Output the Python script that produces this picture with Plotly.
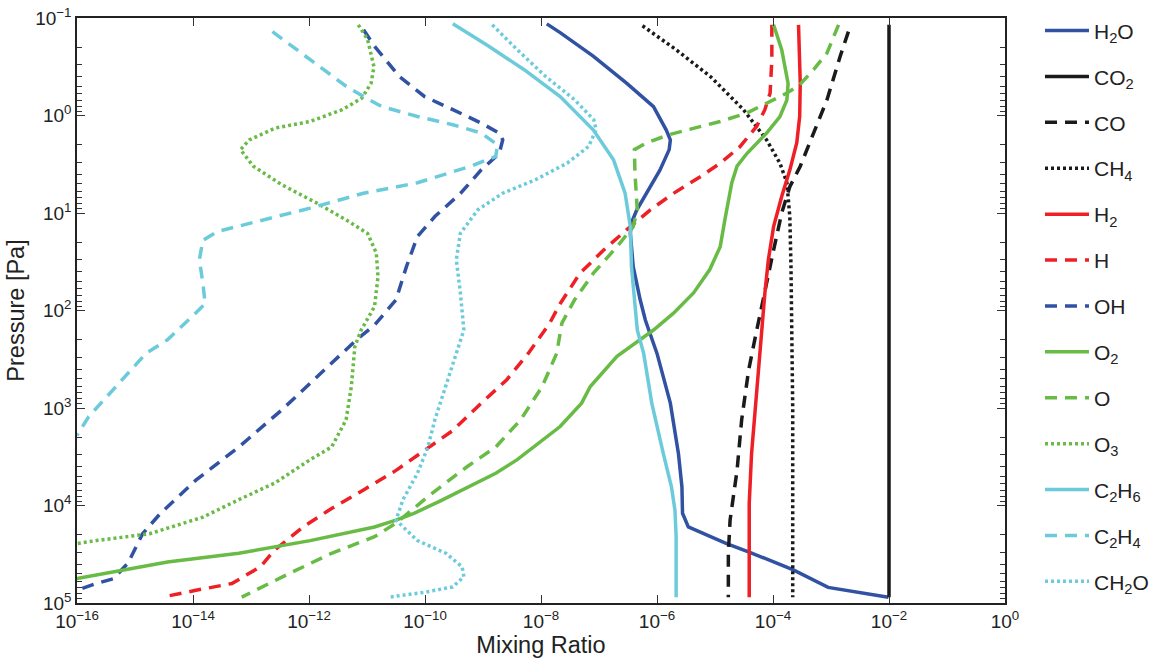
import numpy as np
import plotly.graph_objects as go

# ---- Data: log10(pressure [Pa]) and log10(mixing ratio) ----
h2o_logp = [-0.94,-0.85,-0.61,-0.33,-0.09,0.15,0.25,0.35,0.56,0.80,0.97,1.10,1.21,1.55,1.89,2.10,2.44,2.95,3.47,3.81,4.08,4.22,4.39,4.48,4.66,4.84,4.94]
h2o_logx = [-7.90,-7.67,-7.10,-6.52,-6.06,-5.84,-5.77,-5.79,-5.95,-6.18,-6.35,-6.44,-6.46,-6.41,-6.29,-6.20,-6.00,-5.77,-5.63,-5.57,-5.56,-5.46,-4.80,-4.40,-3.65,-3.05,-2.01]

co2_logp = [-0.93, 4.94]
co2_logx = [-2.0, -2.0]

co_logp = [-0.86,-0.61,-0.16,0.18,0.52,0.73,1.0,1.38,1.79,2.2,2.61,3.12,3.64,3.98,4.15,4.49,4.94]
co_logx = [-2.70,-2.84,-3.07,-3.30,-3.53,-3.71,-3.85,-3.99,-4.14,-4.28,-4.42,-4.54,-4.62,-4.71,-4.74,-4.77,-4.77]

ch4_logp = [-0.92,-0.67,-0.40,-0.06,0.25,0.49,0.69,1.04,1.55,2.2,3.0,4.0,4.94]
ch4_logx = [-6.25,-5.66,-5.08,-4.51,-4.11,-3.88,-3.76,-3.71,-3.69,-3.68,-3.66,-3.66,-3.66]

h2_logp = [-0.93,-0.33,0.01,0.28,0.56,0.83,1.14,1.48,1.82,2.15,2.78,3.47,3.98,4.49,4.94]
h2_logx = [-3.56,-3.53,-3.54,-3.59,-3.71,-3.85,-3.99,-4.08,-4.14,-4.185,-4.28,-4.37,-4.41,-4.41,-4.41]

h_logp = [-0.93,-0.57,-0.23,-0.06,0.11,0.32,0.49,0.63,0.80,0.97,1.17,1.38,1.62,1.93,2.13,2.44,2.71,2.95,3.23,3.43,3.64,3.84,4.03,4.22,4.46,4.63,4.80,4.87,4.94]
h_logx = [-4.02,-4.02,-4.05,-4.14,-4.28,-4.57,-4.91,-5.26,-5.72,-6.12,-6.52,-6.92,-7.33,-7.67,-7.85,-8.22,-8.59,-9.03,-9.52,-10.0,-10.5,-11.06,-11.61,-12.1,-12.6,-12.84,-13.33,-13.95,-14.53]

oh_logp = [-0.88,-0.71,-0.40,-0.195,-0.06,0.078,0.18,0.25,0.39,0.557,0.80,1.036,1.24,1.55,1.89,2.15,2.30,2.64,3.02,3.40,3.74,4.08,4.29,4.59,4.75,4.80,4.87,4.92]
oh_logx = [-11.06,-10.87,-10.44,-10.01,-9.52,-9.03,-8.72,-8.66,-8.72,-9.03,-9.39,-9.83,-10.13,-10.32,-10.5,-10.87,-11.18,-11.79,-12.47,-13.21,-13.95,-14.56,-14.87,-15.12,-15.37,-15.67,-16.0,-16.3]

o2_logp = [-0.93,-0.675,-0.33,-0.16,0.01,0.18,0.39,0.52,0.69,0.865,1.07,1.345,1.58,1.82,2.03,2.2,2.47,2.78,2.95,3.19,3.36,3.53,3.67,3.82,3.96,4.08,4.15,4.22,4.36,4.49,4.58,4.75,4.77]
o2_logx = [-3.99,-3.85,-3.74,-3.76,-3.88,-4.11,-4.45,-4.62,-4.71,-4.77,-4.83,-4.91,-5.09,-5.37,-5.72,-6.06,-6.69,-7.15,-7.30,-7.67,-8.04,-8.41,-8.78,-9.27,-9.76,-10.19,-10.5,-10.87,-11.98,-13.21,-14.44,-16.0,-16.3]

o_logp = [-0.93,-0.64,-0.47,-0.315,-0.23,-0.127,-0.025,0.061,0.13,0.198,0.28,0.35,0.59,0.97,1.14,1.345,1.62,1.89,2.13,2.44,2.78,3.12,3.40,3.60,3.88,4.18,4.32,4.49,4.70,4.94]
o_logx = [-2.87,-3.07,-3.30,-3.54,-3.76,-4.11,-4.45,-4.91,-5.37,-5.80,-6.18,-6.39,-6.38,-6.34,-6.41,-6.69,-7.10,-7.42,-7.64,-7.73,-7.98,-8.35,-8.78,-9.27,-9.89,-10.5,-10.87,-11.61,-12.35,-13.16]

o3_logp = [-0.93,-0.78,-0.50,-0.33,-0.178,-0.059,0.061,0.13,0.25,0.35,0.52,0.71,0.90,1.07,1.21,1.41,1.65,1.96,2.2,2.37,2.78,3.12,3.40,3.53,3.77,3.94,4.12,4.29,4.36,4.39]
o3_logx = [-11.15,-10.99,-10.88,-10.93,-11.09,-11.43,-11.98,-12.59,-13.03,-13.18,-12.96,-12.47,-11.86,-11.36,-10.99,-10.84,-10.81,-10.87,-11.10,-11.21,-11.27,-11.36,-11.61,-11.98,-12.59,-13.21,-13.83,-14.75,-15.67,-16.0]

c2h6_logp = [-0.94,-0.71,-0.47,-0.195,0.147,0.455,0.797,1.14,1.55,1.89,2.2,2.44,2.95,3.47,3.81,4.05,4.32,4.94]
c2h6_logx = [-9.52,-8.90,-8.29,-7.67,-7.10,-6.75,-6.55,-6.46,-6.44,-6.38,-6.34,-6.23,-6.09,-5.89,-5.75,-5.69,-5.67,-5.67]

c2h4_logp = [-0.86,-0.71,-0.52,-0.30,-0.195,-0.093,0.01,0.095,0.18,0.30,0.42,0.52,0.69,0.797,0.95,1.088,1.19,1.28,1.48,1.72,1.93,2.06,2.2,2.30,2.44,2.68,2.92,3.09,3.28]
c2h4_logx = [-12.63,-12.29,-11.86,-11.36,-11.06,-10.75,-10.13,-9.52,-9.03,-8.75,-8.78,-9.21,-10.13,-11.06,-11.98,-12.9,-13.58,-13.83,-13.89,-13.83,-13.79,-14.01,-14.26,-14.44,-14.81,-15.18,-15.55,-15.8,-16.0]

ch2o_logp = [-0.93,-0.675,-0.40,-0.161,0.044,0.147,0.318,0.489,0.66,0.797,0.968,1.208,1.48,1.82,2.2,2.44,2.78,3.12,3.40,3.67,3.94,4.15,4.36,4.49,4.63,4.73,4.835,4.89,4.94]
ch2o_logx = [-8.84,-8.41,-7.92,-7.42,-7.09,-7.05,-7.18,-7.55,-8.1,-8.66,-9.09,-9.39,-9.46,-9.39,-9.33,-9.46,-9.64,-9.83,-9.95,-10.13,-10.38,-10.5,-10.13,-9.64,-9.36,-9.33,-9.52,-10.01,-10.62]

x_tick_exp = [-16, -14, -12, -10, -8, -6, -4, -2, 0]
y_tick_exp = [-1, 0, 1, 2, 3, 4, 5]

BLUE = "#3151A3"
BLACK = "#1a1a1a"
RED = "#EE2026"
GREEN = "#68BB45"
CYAN = "#6CCBDB"
DASH = "12px,8px"
DOT = "3px,3px"

series = [
    ("H<sub>2</sub>O", h2o_logx, h2o_logp, BLUE, "solid"),
    ("CO<sub>2</sub>", co2_logx, co2_logp, BLACK, "solid"),
    ("CO", co_logx, co_logp, BLACK, DASH),
    ("CH<sub>4</sub>", ch4_logx, ch4_logp, BLACK, DOT),
    ("H<sub>2</sub>", h2_logx, h2_logp, RED, "solid"),
    ("H", h_logx, h_logp, RED, DASH),
    ("OH", oh_logx, oh_logp, BLUE, DASH),
    ("O<sub>2</sub>", o2_logx, o2_logp, GREEN, "solid"),
    ("O", o_logx, o_logp, GREEN, DASH),
    ("O<sub>3</sub>", o3_logx, o3_logp, GREEN, DOT),
    ("C<sub>2</sub>H<sub>6</sub>", c2h6_logx, c2h6_logp, CYAN, "solid"),
    ("C<sub>2</sub>H<sub>4</sub>", c2h4_logx, c2h4_logp, CYAN, DASH),
    ("CH<sub>2</sub>O", ch2o_logx, ch2o_logp, CYAN, DOT),
]

fig = go.Figure()
for i, (name, lx, lp, color, dash) in enumerate(series):
    fig.add_trace(go.Scatter(
        x=10 ** np.array(lx), y=10 ** np.array(lp), mode="lines", name=name,
        legendgroup=f"g{i}",
        line=dict(color=color, width=3.5, dash=dash),
    ))

FONT = "Liberation Sans, Arial, Helvetica, sans-serif"
fig.update_layout(
    width=1159, height=660,
    margin=dict(l=77, r=154, t=18, b=57, autoexpand=False),
    plot_bgcolor="white", paper_bgcolor="white",
    font=dict(family=FONT, size=18, color="#222222"),
    showlegend=True,
    legend=dict(x=1.0377, y=1.013, xanchor="left", yanchor="top",
                font=dict(size=21, family=FONT, color="#222222"),
                tracegroupgap=15.6, bgcolor="rgba(0,0,0,0)", maxheight=1.0,
                itemwidth=44),
    xaxis=dict(
        type="log", range=[-16, 0], automargin=False, ticklabeloverflow="allow",
        tickmode="array", tickvals=[10.0 ** e for e in x_tick_exp],
        ticktext=[f"10<sup>{'−' if e < 0 else ''}{abs(e)}</sup>" for e in x_tick_exp],
        ticks="inside", ticklen=8, tickwidth=1, tickcolor="#333",
        showline=True, linecolor="#222", linewidth=1.5, mirror="ticks",
        showgrid=False, zeroline=False,
        title=dict(text="Mixing Ratio", font=dict(size=23.5), standoff=2),
        tickfont=dict(size=19),
    ),
    yaxis=dict(
        type="log", range=[5, -1], automargin=False, ticklabeloverflow="allow",
        tickmode="array", tickvals=[10.0 ** e for e in y_tick_exp],
        ticktext=[f"10<sup>{'−' if e < 0 else ''}{abs(e)}</sup>" for e in y_tick_exp],
        ticks="inside", ticklen=8, tickwidth=1, tickcolor="#333",
        minor=dict(ticks="inside", ticklen=5, dtick="D1", tickcolor="#333", showgrid=False),
        showline=True, linecolor="#222", linewidth=1.5, mirror="ticks",
        showgrid=False, zeroline=False,
        title=dict(text="Pressure [Pa]", font=dict(size=23.5), standoff=4),
        tickfont=dict(size=19),
    ),
)

# remove the page's default body margin so the figure sits at the window's corner
fig.write_html("out.html", config={"displayModeBar": False},
               post_script="document.body.style.margin='0';")
